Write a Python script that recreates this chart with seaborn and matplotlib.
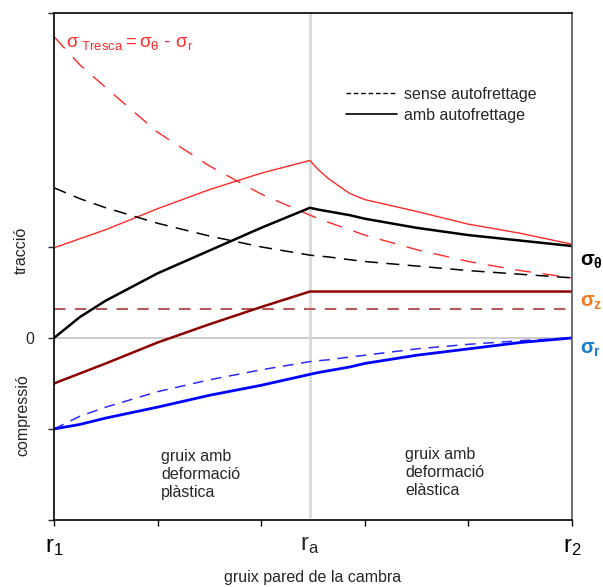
import matplotlib
matplotlib.use("Agg")
import matplotlib.pyplot as plt
import pandas as pd
import seaborn as sns
from matplotlib.lines import Line2D

sns.set_style("white")
plt.rcParams["font.family"] = ["Liberation Sans", "DejaVu Sans"]
plt.rcParams["mathtext.fontset"] = "custom"
plt.rcParams["mathtext.rm"] = "Liberation Sans"
plt.rcParams["mathtext.it"] = "Liberation Sans:italic"
plt.rcParams["mathtext.bf"] = "Liberation Sans:bold"

# Radial position across the wall: 0 = r1 (bore), 1 = r2 (outer surface)
r_pos = [0.0, 0.05, 0.1, 0.2, 0.3, 0.4, 0.494, 0.51, 0.53, 0.57, 0.6, 0.7, 0.8, 0.9, 1.0]
r_a = 0.494

# Stresses (relative units), with and without autofrettage
theta_amb = [0.0, 0.23, 0.41, 0.71, 0.96, 1.21, 1.43, 1.41, 1.39, 1.35, 1.31, 1.21, 1.13, 1.07, 1.01]
theta_sense = [1.65, 1.53, 1.43, 1.26, 1.12, 1.00, 0.91, 0.90, 0.89, 0.86, 0.84, 0.79, 0.74, 0.70, 0.66]
tresca_sense = [3.31, 3.00, 2.75, 2.26, 1.89, 1.58, 1.35, 1.31, 1.27, 1.19, 1.13, 0.97, 0.84, 0.74, 0.66]
tresca_amb = [0.99, 1.09, 1.19, 1.42, 1.63, 1.81, 1.95, 1.85, 1.75, 1.59, 1.52, 1.39, 1.25, 1.15, 1.03]
z_amb = [-0.50, -0.39, -0.28, -0.05, 0.15, 0.34, 0.51, 0.51, 0.51, 0.51, 0.51, 0.51, 0.51, 0.51, 0.51]
z_sense = [0.32] * 15
r_amb = [-1.0, -0.95, -0.88, -0.76, -0.63, -0.52, -0.40, -0.38, -0.36, -0.32, -0.28, -0.19, -0.12, -0.05, 0.0]
r_sense = [-1.0, -0.86, -0.76, -0.59, -0.46, -0.35, -0.26, -0.25, -0.24, -0.21, -0.19, -0.12, -0.07, -0.03, 0.0]

x_ticks = [0.0, 0.2, 0.4, 0.6, 0.8, 1.0]
y_ticks = [-2, -1, 0, 1, 3.57]

fig = plt.figure(figsize=(6.03, 5.87), dpi=100)
ax = fig.add_axes([54 / 603, 1 - 520 / 587, 518 / 603, 507 / 587])

# reference lines: zero stress and the plastic/elastic boundary r_a
ax.axhline(0, color="#c8c8c8", lw=1.3, zorder=0)
ax.axvline(r_a, ymin=0.005, ymax=1, color="#d9d9d9", lw=2.0, zorder=0)

df = pd.DataFrame({"r": r_pos})
series = [
    (tresca_sense, "#ff2a2a", 1.0, (0, (11.5, 8.5))),
    (tresca_amb, "#ff2a2a", 1.0, "-"),
    (theta_sense, "black", 1.1, (0, (8.5, 5.5))),
    (theta_amb, "black", 1.8, "-"),
    (z_sense, "#b55a5a", 1.5, (0, (5.5, 4.5))),
    (z_amb, "#8b0000", 1.8, "-"),
    (r_sense, "#2a2aff", 1.1, (0, (7.0, 5.0))),
    (r_amb, "#0000ff", 2.0, "-"),
]
for vals, col, lw, ls in series:
    d = df.assign(s=vals)
    sns.lineplot(data=d, x="r", y="s", ax=ax, color=col, lw=lw,
                 linestyle=ls, estimator=None, sort=False)

ax.set_xlim(0, 1)
ax.set_ylim(-2.0, 3.57)
ax.set_xlabel("gruix pared de la cambra", fontsize=11.5, labelpad=9)
ax.set_ylabel("")

ax.set_xticks(x_ticks)
ax.set_xticklabels([r"$\mathrm{r_1}$", "", "", "", "", r"$\mathrm{r_2}$"], fontsize=17)
ax.set_xticks([r_a], labels=[r"$\mathrm{r_a}$"], minor=True, fontsize=17)
ax.tick_params(axis="x", which="major", direction="out", length=4.5, width=1,
               bottom=True, pad=7, colors="black")
ax.tick_params(axis="x", which="minor", length=0, pad=10.2, bottom=True)
ax.set_yticks(y_ticks)
ax.set_yticklabels(["", "", "0", "", ""], fontsize=11.5)
ax.tick_params(axis="y", direction="out", length=4.5, width=1, left=True, pad=10)

for side in ["left", "bottom", "top"]:
    ax.spines[side].set_color("black")
    ax.spines[side].set_linewidth(1.2)
ax.spines["right"].set_color("#555555")
ax.spines["right"].set_linewidth(1.2)

# axis side captions
fig.text(21 / 603, 1 - 250 / 587, "tracció", rotation=90, ha="center", va="center",
         fontsize=11.5)
fig.text(23 / 603, 1 - 415 / 587, "compressió", rotation=90, ha="center", va="center",
         fontsize=11.5)

# Tresca caption
ax.text(0.023, 3.24, r"$\mathrm{\sigma_{\ Tresca} = \sigma_\theta}$ - $\mathrm{\sigma_r}$",
        color="#ff2a2a", fontsize=13.5, ha="left", va="center")

# stress labels on the right
for txt, yv, col in [(r"$\mathbf{\sigma_\theta}$", 0.835, "black"),
                     (r"$\mathbf{\sigma_z}$", 0.385, "#f07820"),
                     (r"$\mathbf{\sigma_r}$", -0.13, "#1a7ad4")]:
    ax.annotate(txt, xy=(1, yv), xycoords=("axes fraction", "data"),
                xytext=(5.5, 0), textcoords="offset points", ha="left", va="center",
                color=col, fontsize=14.5, annotation_clip=False)

# zone descriptions
ax.text(0.2066, -1.495, "gruix amb\ndeformació\nplàstica", ha="left", va="center",
        fontsize=11.5, linespacing=1.25)
ax.text(0.6776, -1.48, "gruix amb\ndeformació\nelàstica", ha="left", va="center",
        fontsize=11.5, linespacing=1.25)

handles = [Line2D([], [], color="black", lw=1.0, linestyle=(0, (3.3, 2.0))),
           Line2D([], [], color="black", lw=1.2)]
ax.legend(handles, ["sense autofrettage", "amb autofrettage"], loc="center left",
          bbox_to_anchor=((346 - 54) / 518, (520 - 105) / 507), frameon=False,
          fontsize=11.5, handlelength=3.2, handletextpad=0.45, labelspacing=0.38,
          borderpad=0, borderaxespad=0)

fig.savefig("out.png", dpi=100, facecolor="white")
